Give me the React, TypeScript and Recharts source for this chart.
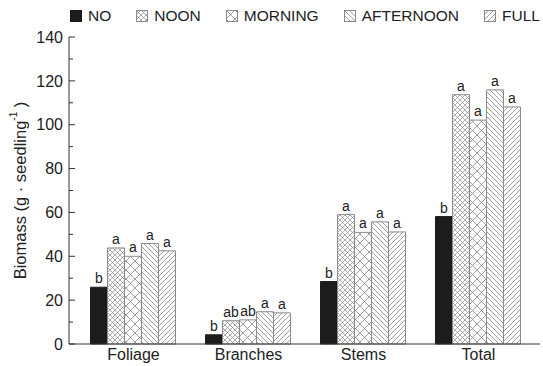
import {
  BarChart,
  Bar,
  XAxis,
  YAxis,
  Legend,
  LabelList,
} from "recharts";

const categories = ["Foliage", "Branches", "Stems", "Total"];
const noValues = [25.9, 4.2, 28.5, 58.1];
const noonValues = [43.8, 10.6, 59.0, 113.7];
const morningValues = [40.0, 11.0, 50.9, 102.1];
const afternoonValues = [45.8, 14.7, 55.7, 115.9];
const fullValues = [42.5, 14.2, 51.1, 108.1];

const noLetters = ["b", "b", "b", "b"];
const noonLetters = ["a", "ab", "a", "a"];
const morningLetters = ["a", "ab", "a", "a"];
const afternoonLetters = ["a", "a", "a", "a"];
const fullLetters = ["a", "a", "a", "a"];

const yTicks = [0, 10, 20, 30, 40, 50, 60, 70, 80, 90, 100, 110, 120, 130, 140];

const data = categories.map((name, i) => ({
  name,
  NO: noValues[i],
  NOON: noonValues[i],
  MORNING: morningValues[i],
  AFTERNOON: afternoonValues[i],
  FULL: fullValues[i],
}));

const FONT = "'Liberation Sans', Arial, Helvetica, sans-serif";
const INK = "#222";
const EDGE = "#8a8a8a";

const series = [
  { key: "NO", fill: "#1c1c1c", stroke: "#1c1c1c", letters: noLetters },
  { key: "NOON", fill: "url(#pNoon)", stroke: EDGE, letters: noonLetters },
  { key: "MORNING", fill: "url(#pMorning)", stroke: EDGE, letters: morningLetters },
  { key: "AFTERNOON", fill: "url(#pAfternoon)", stroke: EDGE, letters: afternoonLetters },
  { key: "FULL", fill: "url(#pFull)", stroke: EDGE, letters: fullLetters },
];

const YTick = (props: any) => {
  const { x, y, payload } = props;
  const major = payload.value % 20 === 0;
  const ax = x + 6;
  return (
    <g>
      <line x1={ax} x2={ax + (major ? 6 : 4)} y1={y} y2={y} stroke="#333" strokeWidth={1} />
      {major && (
        <text x={x} y={y} dy="0.36em" textAnchor="end" fontSize={16} fill={INK} fontFamily={FONT}>
          {payload.value}
        </text>
      )}
    </g>
  );
};

const YTitle = (props: any) => {
  const vb = props.viewBox || {};
  const cy = vb.y + vb.height / 2;
  const cx = 20;
  return (
    <text
      x={cx}
      y={cy}
      transform={`rotate(-90 ${cx} ${cy})`}
      textAnchor="middle"
      dominantBaseline="central"
      fontSize={16.5}
      fill={INK}
      fontFamily={FONT}
    >
      Biomass (g · seedling
      <tspan fontSize={10} dy={-7}>-1</tspan>
      <tspan dy={7}> )</tspan>
    </text>
  );
};

const makeLetter = (letters: string[]) => (props: any) => {
  const { x, y, width, index } = props;
  return (
    <text
      x={x + width / 2}
      y={y - 4}
      textAnchor="middle"
      fontSize={14}
      fill={INK}
      fontFamily={FONT}
    >
      {letters[index]}
    </text>
  );
};

const LegendRow = () => (
  <div
    style={{
      display: "flex",
      alignItems: "center",
      paddingLeft: 70,
      fontFamily: FONT,
      fontSize: 15.5,
      color: INK,
      lineHeight: "18px",
    }}
  >
    {series.map((s) => (
      <div key={s.key} style={{ display: "flex", alignItems: "center", marginRight: 25 }}>
        <svg width={12} height={12} style={{ marginRight: 6 }}>
          <rect x={0.5} y={0.5} width={11} height={11} fill={s.fill} stroke={s.stroke} />
        </svg>
        <span>{s.key}</span>
      </div>
    ))}
  </div>
);

export default function App() {
  return (
    <div style={{ position: "absolute", left: 0, top: 0, width: 543, height: 366, background: "#fff" }}>
      <BarChart
        width={543}
        height={366}
        data={data}
        margin={{ top: 19, right: 3, bottom: 0, left: 0 }}
        barCategoryGap={14.5}
        barGap={0}
      >
        <defs>
          <pattern id="pNoon" width={5} height={5} patternUnits="userSpaceOnUse">
            <rect width={5} height={5} fill="#fff" />
            <path d="M0,0 L5,5 M5,0 L0,5" stroke="#777" strokeWidth={0.6} />
          </pattern>
          <pattern id="pMorning" width={9} height={9} patternUnits="userSpaceOnUse">
            <rect width={9} height={9} fill="#fff" />
            <path d="M0,0 L9,9 M9,0 L0,9" stroke="#777" strokeWidth={0.7} />
          </pattern>
          <pattern id="pAfternoon" width={5} height={5} patternUnits="userSpaceOnUse">
            <rect width={5} height={5} fill="#fff" />
            <path d="M-1,-1 L6,6 M-1,4 L1,6 M4,-1 L6,1" stroke="#777" strokeWidth={0.7} />
          </pattern>
          <pattern id="pFull" width={5} height={5} patternUnits="userSpaceOnUse">
            <rect width={5} height={5} fill="#fff" />
            <path d="M-1,6 L6,-1 M-1,1 L1,-1 M4,6 L6,4" stroke="#777" strokeWidth={0.7} />
          </pattern>
        </defs>
        <Legend verticalAlign="top" height={18} content={<LegendRow />} wrapperStyle={{ top: 7 }} />
        <XAxis
          dataKey="name"
          tickLine={false}
          tickSize={0}
          tickMargin={5}
          height={22}
          padding={{ left: 7, right: 4 }}
          axisLine={{ stroke: "#333" }}
          tick={{ fontSize: 16, fill: INK, fontFamily: FONT }}
        />
        <XAxis xAxisId="top" orientation="top" dataKey="name" tick={false} tickLine={false} height={0} axisLine={{ stroke: "#333" }} />
        <YAxis
          width={69}
          domain={[0, 140]}
          ticks={yTicks}
          interval={0}
          tickLine={false}
          tickSize={0}
          tickMargin={6}
          axisLine={{ stroke: "#333" }}
          tick={<YTick />}
          label={<YTitle />}
        />
        <YAxis yAxisId="right" orientation="right" domain={[0, 140]} width={0} tick={false} tickLine={false} axisLine={{ stroke: "#333" }} />
        {series.map((s) => (
          <Bar
            key={s.key}
            dataKey={s.key}
            fill={s.fill}
            stroke={s.stroke}
            strokeWidth={1}
            isAnimationActive={false}
            legendType="none"
          >
            <LabelList dataKey={s.key} content={makeLetter(s.letters)} />
          </Bar>
        ))}
      </BarChart>
    </div>
  );
}
